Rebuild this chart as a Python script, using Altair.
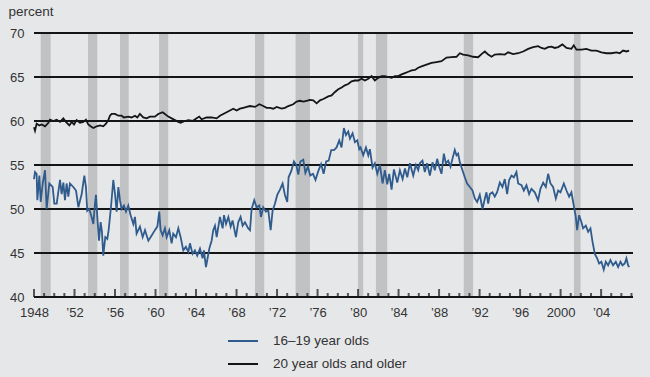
import altair as alt
import pandas as pd

# ---------------- data ----------------
teen_years = [1948.0, 1948.1, 1948.26, 1948.33, 1948.53, 1948.66, 1948.86, 1949.09, 1949.25, 1949.51,
              1949.84, 1950.01, 1950.24, 1950.57, 1950.73, 1950.9, 1951.06, 1951.22, 1951.39, 1951.55,
              1951.88, 1952.15, 1952.38, 1952.71, 1952.97, 1953.13, 1953.26, 1953.46, 1953.69, 1953.86,
              1954.02, 1954.12, 1954.25, 1954.42, 1954.58, 1954.71, 1954.84, 1955.04, 1955.24, 1955.37,
              1955.6, 1955.83, 1956.0, 1956.16, 1956.33, 1956.49, 1956.65, 1956.88, 1957.08, 1957.31,
              1957.54, 1957.81, 1957.97, 1958.13, 1958.46, 1958.73, 1958.96, 1959.29, 1959.62, 1959.94,
              1960.18, 1960.37, 1960.5, 1960.7, 1960.93, 1961.1, 1961.36, 1961.59, 1961.75, 1962.02,
              1962.25, 1962.48, 1962.74, 1963.0, 1963.24, 1963.4, 1963.66, 1963.89, 1964.12, 1964.39,
              1964.65, 1964.78, 1964.98, 1965.11, 1965.31, 1965.54, 1965.7, 1965.87, 1966.04, 1966.36,
              1966.63, 1966.76, 1966.96, 1967.19, 1967.42, 1967.61, 1967.94, 1968.17, 1968.4, 1968.6,
              1968.83, 1969.16, 1969.33, 1969.49, 1969.75, 1969.98, 1970.25, 1970.41, 1970.64, 1970.9,
              1971.14, 1971.37, 1971.56, 1971.79, 1972.02, 1972.29, 1972.55, 1972.78, 1973.01, 1973.14,
              1973.4, 1973.67, 1973.9, 1974.1, 1974.3, 1974.59, 1974.8, 1975.05, 1975.28, 1975.55,
              1975.8, 1976.07, 1976.35, 1976.6, 1976.85, 1977.1, 1977.35, 1977.62, 1977.88, 1978.14,
              1978.37, 1978.6, 1978.8, 1979.03, 1979.2, 1979.46, 1979.69, 1979.92, 1980.12, 1980.25,
              1980.51, 1980.78, 1981.01, 1981.17, 1981.43, 1981.66, 1981.9, 1982.16, 1982.42, 1982.65,
              1982.88, 1983.08, 1983.31, 1983.54, 1983.87, 1984.13, 1984.4, 1984.63, 1984.86, 1985.12,
              1985.45, 1985.71, 1985.94, 1986.1, 1986.36, 1986.59, 1986.82, 1987.09, 1987.35, 1987.58,
              1987.81, 1988.01, 1988.24, 1988.47, 1988.67, 1988.9, 1989.13, 1989.32, 1989.55, 1989.72,
              1989.88, 1990.05, 1990.31, 1990.54, 1990.77, 1991.04, 1991.3, 1991.53, 1991.76, 1992.02,
              1992.29, 1992.52, 1992.68, 1992.85, 1993.01, 1993.27, 1993.5, 1993.73, 1994.0, 1994.26,
              1994.49, 1994.72, 1994.92, 1995.15, 1995.38, 1995.64, 1995.81, 1996.14, 1996.37, 1996.63,
              1996.89, 1997.12, 1997.45, 1997.78, 1998.01, 1998.28, 1998.54, 1998.77, 1999.0, 1999.26,
              1999.53, 1999.76, 1999.99, 2000.32, 2000.58, 2000.84, 2001.07, 2001.3, 2001.5, 2001.63,
              2001.83, 2002.06, 2002.22, 2002.49, 2002.72, 2002.95, 2003.15, 2003.38, 2003.61, 2003.8,
              2004.03, 2004.26, 2004.46, 2004.69, 2004.92, 2005.18, 2005.45, 2005.68, 2005.91, 2006.11,
              2006.34, 2006.5, 2006.67, 2006.77]
teen_values = [53.4, 54.2, 54.0, 51.0, 53.8, 50.8, 52.9, 54.4, 50.0, 52.9,
               52.5, 50.6, 50.6, 53.3, 51.7, 53.0, 51.0, 52.9, 51.4, 52.9,
               52.5, 52.1, 50.2, 51.7, 53.8, 52.5, 49.8, 50.0, 49.1, 48.3,
               50.6, 51.6, 49.1, 46.4, 48.5, 47.4, 44.7, 46.8, 46.6, 47.6,
               50.2, 53.3, 51.7, 49.7, 52.5, 51.0, 50.0, 50.4, 49.7, 50.4,
               49.3, 48.3, 49.1, 47.2, 48.0, 46.8, 47.6, 46.4, 47.0, 47.6,
               48.0, 49.7, 47.6, 47.0, 47.8, 46.8, 47.6, 46.1, 47.2, 46.8,
               47.8, 46.8, 45.3, 45.7, 45.1, 46.1, 44.9, 45.3, 44.7, 45.5,
               44.4, 45.3, 43.4, 44.2, 45.5, 46.4, 47.6, 48.1, 46.8, 49.1,
               47.8, 49.3, 48.3, 49.1, 48.0, 48.7, 46.8, 48.5, 49.1, 48.1,
               48.5, 47.8, 47.6, 50.0, 51.0, 50.2, 50.4, 49.1, 50.2, 49.7,
               49.8, 47.6, 49.8, 50.6, 51.6, 52.2, 52.9, 51.6, 50.8, 53.6,
               54.3, 55.4, 55.0, 53.9, 55.4, 55.6, 54.1, 54.8, 53.8, 54.0,
               53.3, 54.3, 55.1, 54.0, 55.4, 55.5, 56.7, 56.7, 57.0, 57.8,
               57.0, 59.2, 58.4, 58.8, 58.0, 58.6, 57.6, 57.8, 56.8, 57.0,
               56.1, 57.0, 56.1, 56.8, 54.7, 55.2, 54.0, 55.0, 52.9, 54.4,
               52.8, 54.0, 52.2, 54.5, 53.0, 54.4, 53.4, 54.6, 53.6, 55.2,
               53.8, 55.0, 54.4, 55.2, 55.5, 54.2, 55.2, 53.8, 55.3, 54.4,
               55.7, 54.8, 54.0, 56.3, 55.2, 55.5, 54.8, 55.7, 56.7, 56.1,
               56.3, 55.3, 54.4, 53.6, 52.9, 52.5, 52.1, 51.2, 50.8, 51.6,
               50.0, 51.2, 51.9, 50.6, 51.7, 51.9, 51.4, 51.9, 53.0, 52.5,
               53.4, 51.7, 53.3, 53.8, 53.6, 54.2, 52.9, 52.7, 52.1, 52.7,
               51.7, 52.3, 51.9, 51.0, 52.3, 53.0, 52.5, 54.0, 52.9, 52.5,
               51.2, 52.1, 51.9, 52.9, 52.1, 51.4, 51.9, 50.4, 49.1, 47.6,
               49.3, 48.5, 47.8, 48.1, 47.4, 47.8, 46.3, 44.9, 44.4, 43.8,
               44.0, 43.1, 44.0, 43.6, 44.2, 43.6, 44.0, 43.4, 44.0, 43.6,
               43.8, 44.4, 43.6, 43.4]

adult_years = [1948.0, 1948.1, 1948.26, 1948.53, 1948.76, 1949.09, 1949.42, 1949.58, 1949.91, 1950.24,
               1950.57, 1950.9, 1951.22, 1951.49, 1951.72, 1951.95, 1952.21, 1952.54, 1952.87, 1953.13,
               1953.36, 1953.59, 1953.86, 1954.19, 1954.52, 1954.84, 1955.11, 1955.34, 1955.5, 1955.67,
               1956.0, 1956.33, 1956.65, 1956.88, 1957.31, 1957.64, 1957.97, 1958.2, 1958.46, 1958.79,
               1959.12, 1959.45, 1959.94, 1960.27, 1960.7, 1960.93, 1961.26, 1961.59, 1961.92, 1962.25,
               1962.48, 1962.9, 1963.24, 1963.66, 1964.06, 1964.32, 1964.55, 1965.04, 1965.54, 1966.03,
               1966.36, 1966.69, 1967.02, 1967.35, 1967.68, 1968.01, 1968.34, 1968.67, 1969.0, 1969.33,
               1969.82, 1970.25, 1970.64, 1970.97, 1971.3, 1971.63, 1971.96, 1972.45, 1972.78, 1973.11,
               1973.6, 1973.93, 1974.26, 1974.59, 1974.92, 1975.25, 1975.58, 1975.91, 1976.24, 1976.57,
               1977.06, 1977.39, 1977.72, 1978.05, 1978.38, 1978.7, 1979.03, 1979.36, 1979.69, 1980.02,
               1980.35, 1980.68, 1981.01, 1981.34, 1981.66, 1981.99, 1982.32, 1982.65, 1982.98, 1983.31,
               1983.64, 1983.97, 1984.3, 1984.63, 1984.96, 1985.29, 1985.62, 1985.94, 1986.27, 1986.76,
               1987.25, 1987.75, 1988.24, 1988.73, 1989.23, 1989.72, 1990.05, 1990.38, 1990.87, 1991.36,
               1991.86, 1992.19, 1992.52, 1992.85, 1993.18, 1993.5, 1994.0, 1994.49, 1994.82, 1995.31,
               1995.81, 1996.3, 1996.8, 1997.29, 1997.78, 1998.11, 1998.44, 1998.77, 1999.1, 1999.43,
               1999.76, 2000.18, 2000.58, 2001.07, 2001.3, 2001.57, 2002.06, 2002.55, 2003.04, 2003.54,
               2004.03, 2004.53, 2005.02, 2005.51, 2005.84, 2006.17, 2006.5, 2006.77]
adult_values = [59.3, 58.9, 59.7, 59.5, 59.6, 59.4, 59.8, 60.15, 60.0, 60.15,
                59.9, 60.3, 59.8, 59.5, 59.9, 59.6, 60.1, 59.8, 59.9, 60.15,
                59.6, 59.4, 59.2, 59.4, 59.5, 59.4, 59.7, 60.1, 60.6, 60.8,
                60.8, 60.6, 60.6, 60.4, 60.5, 60.4, 60.6, 60.4, 60.8, 60.4,
                60.3, 60.5, 60.5, 60.8, 61.0, 60.8, 60.5, 60.3, 60.1, 59.9,
                59.8, 60.0, 60.1, 60.0, 60.3, 60.5, 60.2, 60.4, 60.4, 60.3,
                60.6, 60.8, 61.0, 61.2, 61.4, 61.2, 61.4, 61.5, 61.6, 61.7,
                61.6, 61.9, 61.7, 61.5, 61.5, 61.4, 61.6, 61.4, 61.5, 61.7,
                61.9, 62.2, 62.3, 62.2, 62.3, 62.4, 62.35, 62.0, 62.35, 62.5,
                62.8, 62.9, 63.3, 63.6, 63.8, 64.05, 64.2, 64.5, 64.6, 64.6,
                64.8, 64.6, 64.8, 65.1, 64.6, 64.9, 65.1, 65.1, 65.0, 64.9,
                65.1, 65.1, 65.3, 65.45, 65.6, 65.75, 65.8, 66.05, 66.2, 66.4,
                66.6, 66.7, 66.8, 67.2, 67.25, 67.3, 67.7, 67.55, 67.45, 67.3,
                67.25, 67.6, 67.9, 67.55, 67.3, 67.55, 67.6, 67.55, 67.8, 67.6,
                67.7, 67.9, 68.2, 68.4, 68.5, 68.3, 68.2, 68.4, 68.45, 68.3,
                68.4, 68.7, 68.3, 68.2, 68.6, 68.1, 68.1, 68.2, 68.0, 68.0,
                67.8, 67.7, 67.7, 67.8, 67.7, 68.0, 67.9, 68.0]

series_names = ["16\u201319 year olds", "20 year olds and older"]

recession_start = [1948.66, 1953.33, 1956.49, 1960.35, 1969.82, 1973.83, 1979.99, 1981.76, 1990.44, 2001.32]
recession_end = [1949.65, 1954.25, 1957.35, 1961.26, 1970.74, 1975.25, 1980.51, 1982.88, 1991.36, 2001.97]

y_ticks = [40, 45, 50, 55, 60, 65, 70]
major_years = list(range(1948, 2005, 4))
minor_years = [y for y in range(1949, 2008) if y not in major_years]

# ---------------- frames ----------------
lines_df = pd.concat([
    pd.DataFrame({"year": teen_years, "value": teen_values, "series": series_names[0]}),
    pd.DataFrame({"year": adult_years, "value": adult_values, "series": series_names[1]}),
])
rec_df = pd.DataFrame({"start": recession_start, "end": recession_end})
grid_df = pd.DataFrame({"v": y_ticks})
major_df = pd.DataFrame({"year": major_years})
minor_df = pd.DataFrame({"year": minor_years})

FONT = "Liberation Sans"
TXT = "#333333"
BLUE = "#2f5b8d"
BLACK = "#151515"

xscale = alt.Scale(domain=[1948, 2007.15], nice=False, zero=False)
yscale = alt.Scale(domain=[40, 70], nice=False, zero=False)

xaxis = alt.Axis(
    values=major_years, format="d",
    labelExpr="datum.value == 1948 || datum.value == 2000 ? datum.label : '\u2019' + slice(datum.label, 2)",
    ticks=False, domain=False, grid=False, title=None,
    labelPadding=9, labelFontSize=13, labelColor=TXT, labelFont=FONT,
    labelFlush=False, labelOverlap=False,
)
yaxis = alt.Axis(
    values=y_ticks, ticks=False, domain=False, grid=False,
    title="percent", titleAngle=0, titleAlign="left", titleBaseline="alphabetic",
    titleX=-26, titleY=-18, titleFontWeight="normal", titleFontSize=13.5,
    titleColor=TXT, titleFont=FONT,
    labelPadding=10, labelFontSize=13, labelColor=TXT, labelFont=FONT,
)

rects = alt.Chart(rec_df).mark_rect(color="#c1c2c4").encode(
    x=alt.X("start:Q", scale=xscale, axis=xaxis),
    x2="end:Q",
)

grid = alt.Chart(grid_df).mark_rule(color=BLACK, strokeWidth=2).encode(
    y=alt.Y("v:Q", scale=yscale, axis=yaxis),
)

major = alt.Chart(major_df).mark_tick(
    orient="vertical", size=8, thickness=2, color=BLACK, yOffset=-4
).encode(x=alt.X("year:Q", scale=xscale, axis=xaxis), y=alt.datum(40))

minor = alt.Chart(minor_df).mark_tick(
    orient="vertical", size=4, thickness=2, color=BLACK, yOffset=-2
).encode(x=alt.X("year:Q", scale=xscale, axis=xaxis), y=alt.datum(40))

lines = alt.Chart(lines_df).mark_line(strokeWidth=1.8).encode(
    x=alt.X("year:Q", scale=xscale, axis=xaxis),
    y=alt.Y("value:Q", scale=yscale, axis=yaxis),
    color=alt.Color(
        "series:N",
        scale=alt.Scale(domain=series_names, range=[BLUE, BLACK]),
        legend=alt.Legend(
            orient="none", legendX=193, legendY=292, title=None,
            symbolType="stroke", symbolSize=900, symbolStrokeWidth=2,
            labelFontSize=13.5, labelColor=TXT, labelFont=FONT,
            labelOffset=14, rowPadding=-8, padding=0,
        ),
    ),
)

chart = alt.layer(rects, grid, major, minor, lines).properties(
    width=599, height=264,
    autosize=alt.AutoSizeParams(type="none"),
    padding={"left": 34, "top": 33, "right": 17, "bottom": 80},
).configure(background="#e6e7e9", font=FONT).configure_view(stroke=None)

chart.save("out.html", embed_options={"renderer": "svg", "actions": False})
